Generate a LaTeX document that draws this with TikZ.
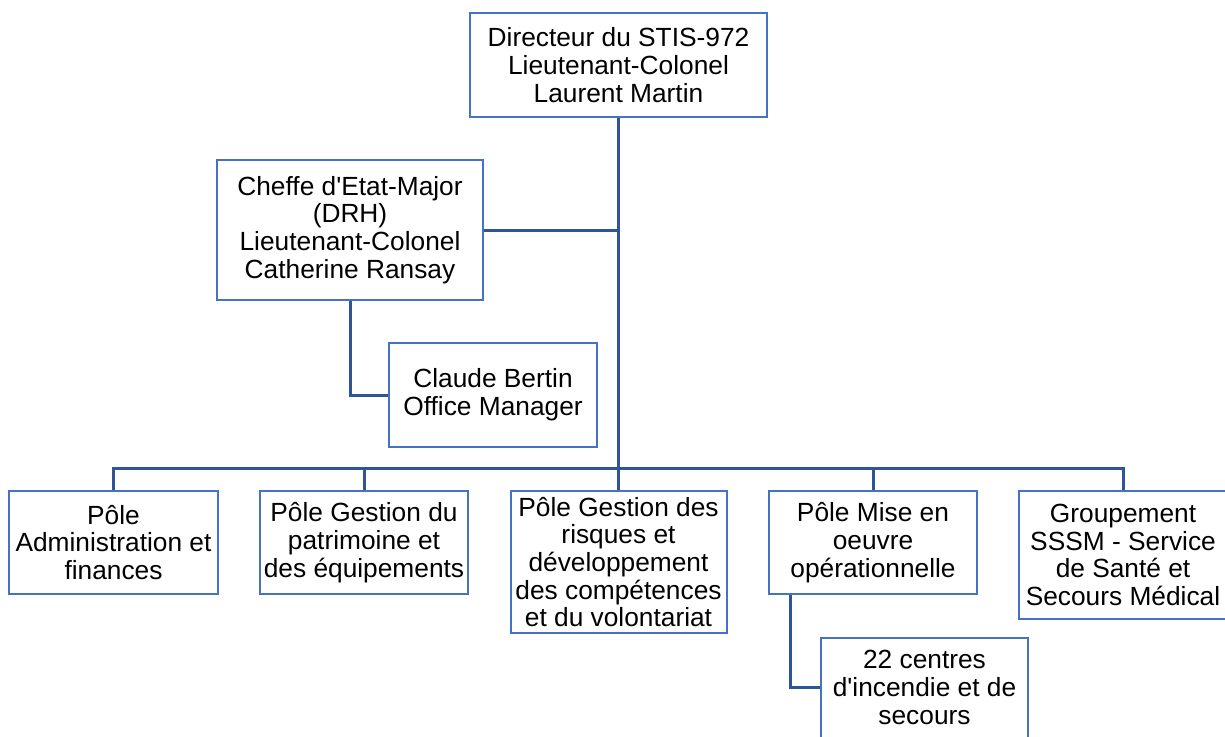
\documentclass[tikz,border=0pt]{standalone}
\usepackage{fontspec}
\setmainfont{Liberation Sans}
\definecolor{boxblue}{HTML}{4472C4}
\definecolor{lineblue}{HTML}{2F5597}
\begin{document}
\begin{tikzpicture}[x=1pt,y=-1pt,
  box/.style={draw=boxblue, line width=2pt, fill=white, rectangle, inner sep=0pt,
    align=center, font=\fontsize{26.3}{27.7}\selectfont, anchor=center},
  conn/.style={draw=lineblue, line width=3pt}]
\useasboundingbox (0,0) rectangle (1225,736);
\clip (0,0) rectangle (1225,736);
\node[box, minimum width=297pt, minimum height=104pt] (dir) at (618.5,65) {Directeur du STIS-972\\Lieutenant-Colonel\\Laurent Martin};
\coordinate (bus) at (618.5,468);
\node[box, minimum width=266pt, minimum height=140pt] (chef) at (350,230) {Cheffe d\textquotesingle Etat-Major\\(DRH)\\Lieutenant-Colonel\\Catherine Ransay};
\node[box, minimum width=208pt, minimum height=104pt] (claude) at (493,395) {Claude Bertin\\Office Manager};
\node[box, minimum width=209pt, minimum height=103pt] (p1) at (113.5,542.5) {Pôle\\Administration et\\finances};
\node[box, minimum width=208pt, minimum height=103pt] (p2) at (364,542.5) {Pôle Gestion du\\patrimoine et\\des équipements};
\node[box, minimum width=216pt, minimum height=142pt] (p3) at (618.5,562) {Pôle Gestion des\\risques et\\développement\\des compétences\\et du volontariat};
\node[box, minimum width=208pt, minimum height=103pt] (p4) at (873,542.5) {Pôle Mise en\\oeuvre\\opérationnelle};
\node[box, minimum width=208pt, minimum height=128pt] (p5) at (1123,555) {Groupement\\SSSM - Service\\de Santé et\\Secours Médical};
\node[box, minimum width=207pt, minimum height=100pt] (c22) at (924.5,687.5) {22 centres\\d\textquotesingle incendie et de\\secours};
\coordinate (p4sub) at ([xshift=22pt]p4.south west);
\path[conn] (dir.south) -- (bus);
\path[conn] (chef.east) -- (chef.east -| dir.south);
\path[conn] (chef.south) |- (claude.west);
\path[conn] (p1.north) -- (p1.north |- bus) -- (p5.north |- bus) -- (p5.north);
\path[conn] (p2.north) -- (p2.north |- bus);
\path[conn] (p3.north) -- (p3.north |- bus);
\path[conn] (p4.north) -- (p4.north |- bus);
\path[conn] (p4sub) |- (c22.west);
\end{tikzpicture}
\end{document}
